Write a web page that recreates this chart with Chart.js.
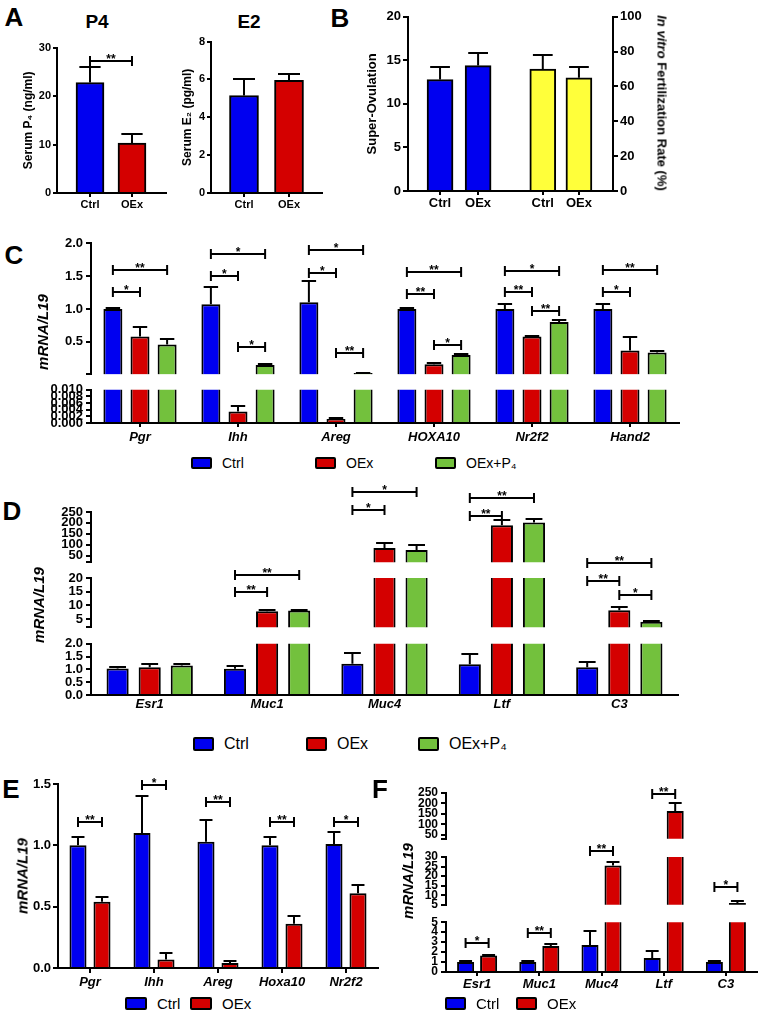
<!DOCTYPE html>
<html>
<head>
<meta charset="utf-8">
<title>Figure</title>
<script src="https://cdn.jsdelivr.net/npm/chart.js@4.4.1/dist/chart.umd.min.js"></script>
<style>
  html, body { margin: 0; background: #fff; }
  #page { position: relative; width: 762px; height: 1013px; overflow: hidden; font-family: 'Liberation Sans', Arial, sans-serif; color: #000; }
  #page canvas { position: absolute; }
  .txt { position: absolute; white-space: nowrap; line-height: 1; }
</style>
</head>
<body>
<div id="page"></div>
<script>
// ---------- data ----------
const groups = ['Ctrl', 'OEx'];
const seriesNames = ['Ctrl', 'OEx', 'OEx+P₄'];

// A
const p4Values = [22.8, 10.3];
const p4Errors = [3.3, 1.8];
const p4Sig = [[[0, 0], [0, 1], 27.3, '**']];
const e2Values = [5.15, 5.95];
const e2Errors = [0.9, 0.35];

// B
const ovulationValues = [12.8, 14.4];
const ovulationErrors = [1.4, 1.4];
const fertilizationValues = [70, 65];
const fertilizationErrors = [7.8, 6.2];

// C  (sig rows: category, from series, to series, level, stars)
const cGenes = ['Pgr', 'Ihh', 'Areg', 'HOXA10', 'Nr2f2', 'Hand2'];
const cCtrl = [1.00, 1.07, 1.10, 1.00, 1.00, 1.00];
const cCtrlErr = [0.02, 0.26, 0.33, 0.02, 0.07, 0.08];
const cOEx = [0.58, 0.0035, 0.0012, 0.16, 0.58, 0.37];
const cOExErr = [0.14, 0.0015, 0.0002, 0.02, 0.01, 0.20];
const cP4 = [0.46, 0.15, 0.03, 0.30, 0.80, 0.34];
const cP4Err = [0.09, 0.02, 0.003, 0.01, 0.03, 0.02];
const cUpperTicks = [0.01, 0.5, 1, 1.5, 2];
const cLowerTicks = [0, 0.002, 0.004, 0.006, 0.008, 0.01];
const cSig = [
  [0, 0, 1, 1.26, '*'], [0, 0, 2, 1.59, '**'],
  [1, 0, 1, 1.50, '*'], [1, 0, 2, 1.83, '*'], [1, 1, 2, 0.42, '*'],
  [2, 0, 1, 1.55, '*'], [2, 0, 2, 1.89, '*'], [2, 1, 2, 0.33, '**'],
  [3, 0, 1, 1.22, '**'], [3, 0, 2, 1.56, '**'], [3, 1, 2, 0.46, '*'],
  [4, 0, 1, 1.25, '**'], [4, 0, 2, 1.57, '*'], [4, 1, 2, 0.97, '**'],
  [5, 0, 1, 1.25, '*'], [5, 0, 2, 1.59, '**']
];

// D
const dGenes = ['Esr1', 'Muc1', 'Muc4', 'Ltf', 'C3'];
const dCtrl = [1.04, 1.03, 1.22, 1.20, 1.08];
const dCtrlErr = [0.06, 0.12, 0.43, 0.42, 0.22];
const dOEx = [1.08, 7.8, 85, 189, 8.2];
const dOExErr = [0.14, 0.6, 21, 26, 1.3];
const dP4 = [1.15, 8.1, 76, 202, 4.0];
const dP4Err = [0.05, 0.3, 22, 18, 0.3];
const dTopTicks = [20, 50, 100, 150, 200, 250];
const dMidTicks = [2, 5, 10, 15, 20];
const dLowTicks = [0, 0.5, 1, 1.5, 2];
const dTopSig = [[2, 0, 1, 259, '*'], [2, 0, 2, 341, '*'], [3, 0, 1, 233, '**'], [3, 0, 2, 315, '**']];
const dMidSig = [[1, 0, 1, 14.8, '**'], [1, 0, 2, 21, '**'], [4, 0, 1, 19, '**'], [4, 0, 2, 25.6, '**'], [4, 1, 2, 13.7, '*']];

// E
const eGenes = ['Pgr', 'Ihh', 'Areg', 'Hoxa10', 'Nr2f2'];
const eCtrl = [1.00, 1.10, 1.03, 1.00, 1.01];
const eCtrlErr = [0.07, 0.30, 0.18, 0.07, 0.10];
const eOEx = [0.54, 0.07, 0.04, 0.36, 0.61];
const eOExErr = [0.04, 0.05, 0.02, 0.06, 0.07];
const eTicks = [0, 0.5, 1, 1.5];
const eSig = [[0, 0, 1, 1.19, '**'], [1, 0, 1, 1.49, '*'], [2, 0, 1, 1.35, '**'], [3, 0, 1, 1.19, '**'], [4, 0, 1, 1.19, '*']];

// F
const fGenes = ['Esr1', 'Muc1', 'Muc4', 'Ltf', 'C3'];
const fCtrl = [1.0, 1.0, 2.7, 1.4, 1.0];
const fCtrlErr = [0.1, 0.1, 1.4, 0.7, 0.15];
const fOEx = [1.65, 2.6, 25.5, 164, 6.0];
const fOExErr = [0.1, 0.2, 2.0, 36, 1.0];
const fTopTicks = [30, 50, 100, 150, 200, 250];
const fMidTicks = [5, 10, 15, 20, 25, 30];
const fLowTicks = [0, 1, 2, 3, 4, 5];
const fTopSig = [[3, 0, 1, 245, '**']];
const fMidSig = [[2, 0, 1, 33, '**'], [4, 0, 1, 14.5, '*']];
const fLowSig = [[0, 0, 1, 2.9, '*'], [1, 0, 1, 3.9, '**']];

// ---------- styling ----------
const BLUE = '#0000f0', RED = '#d40000', GREEN = '#73c13d', YELLOW = '#ffff3a';
const FONT = "'Liberation Sans', Arial, sans-serif";
Chart.defaults.font.family = FONT;
Chart.defaults.color = '#000';
Chart.defaults.animation = false;

const page = document.getElementById('page');

function mkCanvas(left, top, width, height) {
  const c = document.createElement('canvas');
  c.width = width;
  c.height = height;
  c.style.left = left + 'px';
  c.style.top = top + 'px';
  page.appendChild(c);
  return c;
}

function addText(html, cx, cy, css, rotate) {
  const d = document.createElement('div');
  d.className = 'txt';
  d.innerHTML = html;
  d.style.cssText += `left:${cx}px;top:${cy}px;${css};transform:translate(-50%,-50%)${rotate ? ` rotate(${rotate}deg)` : ''}`;
  page.appendChild(d);
}

function htmlLegend(chart, boxX, cy, boxW, boxH, size) {
  chart.data.datasets.forEach((ds, i) => {
    const box = document.createElement('div');
    box.style.cssText = `position:absolute;left:${boxX[i]}px;top:${cy - boxH / 2}px;width:${boxW}px;height:${boxH}px;box-sizing:border-box;border:2px solid #000;border-radius:2px;background:${ds.backgroundColor}`;
    page.appendChild(box);
    const t = document.createElement('div');
    t.className = 'txt';
    t.textContent = ds.label;
    t.style.cssText += `left:${boxX[i] + boxW + 10}px;top:${cy}px;transform:translateY(-50%);font-size:${size}px`;
    page.appendChild(t);
  });
}

// mean + SEM whiskers, clipped to the plot area of each segment
const errorBars = {
  id: 'errorBars',
  afterDatasetsDraw(chart) {
    const {ctx, chartArea: a} = chart;
    ctx.save();
    ctx.beginPath();
    ctx.rect(a.left - 2, a.top - 1, a.right - a.left + 4, a.bottom - a.top + 1);
    ctx.clip();
    ctx.strokeStyle = '#000';
    ctx.lineWidth = 2;
    chart.data.datasets.forEach((ds, i) => {
      if (!ds.errors) return;
      const meta = chart.getDatasetMeta(i);
      const yScale = chart.scales[meta.yAxisID];
      meta.data.forEach((bar, j) => {
        const raw = ds.data[j];
        const v = typeof raw === 'object' ? raw.y : raw;
        const base = yScale.getPixelForValue(v);
        const top = Math.round(yScale.getPixelForValue(v + ds.errors[j]));
        if (top > a.bottom - 1) return;
        const half = bar.width * 0.38;
        ctx.beginPath();
        ctx.moveTo(bar.x, base);
        ctx.lineTo(bar.x, top);
        if (top >= a.top - 1) {
          ctx.moveTo(bar.x - half, top);
          ctx.lineTo(bar.x + half, top);
        }
        ctx.stroke();
      });
    });
    ctx.restore();
  }
};

// significance brackets: [[dataset, index], [dataset, index], level, text]
function sigPlugin(items, yId) {
  return {
    id: 'sigBrackets',
    afterDatasetsDraw(chart) {
      const {ctx} = chart;
      const scale = chart.scales[yId || 'y'];
      ctx.save();
      ctx.strokeStyle = '#000';
      ctx.fillStyle = '#000';
      ctx.lineWidth = 2;
      ctx.font = `bold 12px ${FONT}`;
      ctx.textAlign = 'center';
      ctx.textBaseline = 'alphabetic';
      items.forEach(([a, b, level, text]) => {
        const xa = chart.getDatasetMeta(a[0]).data[a[1]].x;
        const xb = chart.getDatasetMeta(b[0]).data[b[1]].x;
        const y = Math.round(scale.getPixelForValue(level));
        ctx.beginPath();
        ctx.moveTo(xa, y); ctx.lineTo(xb, y);
        ctx.moveTo(xa, y - 5); ctx.lineTo(xa, y + 5);
        ctx.moveTo(xb, y - 5); ctx.lineTo(xb, y + 5);
        ctx.stroke();
        ctx.fillText(text, (xa + xb) / 2, y + 2);
      });
      ctx.restore();
    }
  };
}

const axisGrid = (len) => ({drawOnChartArea: false, color: '#000', lineWidth: 2, tickLength: len, drawTicks: len > 0});
const axisBorder = {color: '#000', width: 2};

// ---------- panel A ----------
function serumChart(o) {
  const padTop = 8, xH = 18;
  const canvas = mkCanvas(o.axisX - o.yW, o.y0 - padTop, o.yW + o.x1 - o.axisX + 4, padTop + o.y1 - o.y0 + xH);
  return new Chart(canvas, {
    type: 'bar',
    data: {
      datasets: [{
        data: o.values.map((y, i) => ({x: i + 1, y})),
        errors: o.errors,
        backgroundColor: [BLUE, RED],
        borderColor: '#000', borderWidth: 2, borderSkipped: 'start',
        barThickness: o.barW
      }]
    },
    options: {
      responsive: false, devicePixelRatio: 1,
      layout: {padding: {top: padTop, right: 4, bottom: 0, left: 0}},
      plugins: {legend: {display: false}, tooltip: {enabled: false}},
      scales: {
        x: {
          type: 'linear', min: o.xMin, max: o.xMax, offset: false,
          afterBuildTicks: sc => { sc.ticks = groups.map((g, i) => ({value: i + 1})); },
          ticks: {font: {size: 11, weight: 'bold'}, padding: 1, autoSkip: false, maxRotation: 0, callback: (v, i) => groups[i]},
          grid: Object.assign(axisGrid(4), {offset: false}), border: axisBorder,
          afterFit: sc => { sc.height = xH; }
        },
        y: {
          min: 0, max: o.max,
          ticks: {stepSize: o.step, font: {size: 11, weight: 'bold'}, padding: 2},
          grid: axisGrid(4), border: axisBorder,
          title: {display: true, text: o.title, font: {size: 12, weight: 'bold'}, padding: 0},
          afterFit: sc => { sc.width = o.yW; }
        }
      }
    },
    plugins: [errorBars, sigPlugin(o.sig || [])]
  });
}

serumChart({axisX: 57, x1: 166, y0: 47, y1: 193, yW: 36, xMin: 0.214, xMax: 2.81, barW: 28,
  values: p4Values, errors: p4Errors, max: 30, step: 10, title: 'Serum P₄ (ng/ml)', sig: p4Sig});
serumChart({axisX: 211, x1: 322, y0: 41, y1: 193, yW: 31, xMin: 0.267, xMax: 2.733, barW: 29,
  values: e2Values, errors: e2Errors, max: 8, step: 2, title: 'Serum E₂ (pg/ml)'});

// ---------- panel B ----------
const bPos = [1, 2, 3.7, 4.65];
const bLabels = groups.concat(groups);
new Chart(mkCanvas(365, 7, 290, 8 + 176 + 20), {
  type: 'bar',
  data: {
    datasets: [
      {label: 'Super-Ovulation', data: ovulationValues.map((y, i) => ({x: bPos[i], y})), errors: ovulationErrors,
        backgroundColor: BLUE, yAxisID: 'y'},
      {label: 'In vitro Fertilization Rate (%)', data: fertilizationValues.map((y, i) => ({x: bPos[i + 2], y})), errors: fertilizationErrors,
        backgroundColor: YELLOW, yAxisID: 'y2'}
    ].map(d => Object.assign(d, {borderColor: '#000', borderWidth: 2, borderSkipped: 'start', barThickness: 26, grouped: false}))
  },
  options: {
    responsive: false, devicePixelRatio: 1,
    layout: {padding: {top: 8, right: 0, bottom: 0, left: 0}},
    plugins: {legend: {display: false}, tooltip: {enabled: false}},
    scales: {
      x: {
        type: 'linear', min: 0.158, max: 5.545, offset: false,
        afterBuildTicks: sc => { sc.ticks = bPos.map(value => ({value})); },
        ticks: {font: {size: 13, weight: 'bold'}, padding: 1, autoSkip: false, maxRotation: 0, callback: (v, i) => bLabels[i]},
        grid: Object.assign(axisGrid(4), {offset: false}), border: axisBorder,
        afterFit: sc => { sc.height = 20; }
      },
      y: {
        position: 'left', min: 0, max: 20,
        ticks: {stepSize: 5, font: {size: 13, weight: 'bold'}, padding: 2},
        grid: axisGrid(5), border: axisBorder,
        title: {display: true, text: 'Super-Ovulation', font: {size: 13, weight: 'bold'}, padding: 0},
        afterFit: sc => { sc.width = 43; }
      },
      y2: {
        position: 'right', min: 0, max: 100,
        ticks: {stepSize: 20, font: {size: 13, weight: 'bold'}, padding: 2},
        grid: axisGrid(5), border: axisBorder,
        afterFit: sc => { sc.width = 42; }
      }
    }
  },
  plugins: [errorBars]
});

// ---------- broken-axis panels (C, D, E, F) ----------
function segmentedPanel(p) {
  return p.segments.map((s, k) => {
    const last = k === p.segments.length - 1;
    const padTop = s.padTop || 10;
    const padBottom = last ? 0 : 8;
    const xH = last ? p.xH : 0;
    const canvas = mkCanvas(p.x0 - p.yW, s.y0 - padTop, p.yW + p.x1 - p.x0 + 6, padTop + s.y1 - s.y0 + padBottom + xH);
    const sig = (s.sig || []).map(([c, a, b, v, t]) => [[a, c], [b, c], v, t]);
    return new Chart(canvas, {
      type: 'bar',
      data: {
        labels: p.labels,
        datasets: p.series.map(sr => ({
          label: sr.name, data: sr.values, errors: sr.errors,
          backgroundColor: sr.color, borderColor: '#000', borderWidth: 2, borderSkipped: 'start',
          categoryPercentage: p.catPct, barPercentage: p.barPct
        }))
      },
      options: {
        responsive: false, devicePixelRatio: 1,
        layout: {padding: {top: padTop, right: 6, bottom: padBottom, left: 0}},
        plugins: {legend: {display: false}, tooltip: {enabled: false}},
        scales: {
          x: {
            display: last,
            grid: Object.assign(axisGrid(p.xTick), {offset: false}),
            border: axisBorder,
            ticks: {font: {size: 13, weight: 'bold', style: 'italic'}, padding: p.xPad, maxRotation: 0, autoSkip: false},
            afterFit: sc => { sc.height = xH; }
          },
          y: {
            min: s.ticks[0], max: s.ticks[s.ticks.length - 1],
            afterBuildTicks: sc => { sc.ticks = s.ticks.map(value => ({value})); },
            ticks: {font: {size: p.yFont, weight: 'bold'}, padding: p.yPad || 3, autoSkip: false, callback: s.fmt},
            grid: axisGrid(5), border: axisBorder,
            afterFit: sc => { sc.width = p.yW; }
          }
        }
      },
      plugins: [errorBars, sigPlugin(sig)]
    });
  });
}

const fixed = d => v => v.toFixed(d);
const blankFirst = (first, f) => v => (v === first ? '' : f(v));
const threeSeries = (a, ae, b, be, c, ce) => [
  {name: seriesNames[0], color: BLUE, values: a, errors: ae},
  {name: seriesNames[1], color: RED, values: b, errors: be},
  {name: seriesNames[2], color: GREEN, values: c, errors: ce}
];
const twoSeries = (a, ae, b, be) => [
  {name: seriesNames[0], color: BLUE, values: a, errors: ae},
  {name: seriesNames[1], color: RED, values: b, errors: be}
];

// C
const cCharts = segmentedPanel({
  labels: cGenes, x0: 91, x1: 679, yW: 50, yFont: 13, catPct: 0.83, barPct: 0.70, xH: 24, xTick: 4, xPad: 3,
  series: threeSeries(cCtrl, cCtrlErr, cOEx, cOExErr, cP4, cP4Err),
  segments: [
    {y0: 243, y1: 377, ticks: cUpperTicks, fmt: blankFirst(0.01, fixed(1)), sig: cSig, padTop: 12},
    {y0: 389, y1: 423, ticks: cLowerTicks, fmt: fixed(3)}
  ]
});
htmlLegend(cCharts[1], [191, 315, 435], 463, 21, 12, 14);

// D
const dCharts = segmentedPanel({
  labels: dGenes, x0: 91, x1: 678, yW: 46, yFont: 13, catPct: 0.82, barPct: 0.69, xH: 20, xTick: 0, xPad: 2,
  series: threeSeries(dCtrl, dCtrlErr, dOEx, dOExErr, dP4, dP4Err),
  segments: [
    {y0: 512, y1: 565, ticks: dTopTicks, fmt: blankFirst(20, String), sig: dTopSig, padTop: 36},
    {y0: 578, y1: 630, ticks: dMidTicks, fmt: blankFirst(2, String), sig: dMidSig, padTop: 30},
    {y0: 643, y1: 695, ticks: dLowTicks, fmt: fixed(1)}
  ]
});
htmlLegend(dCharts[2], [193, 306, 418], 744, 21, 14, 16);

// E
const eCharts = segmentedPanel({
  labels: eGenes, x0: 58, x1: 378, yW: 34, yFont: 13, yPad: 2, catPct: 0.75, barPct: 0.71, xH: 24, xTick: 5, xPad: 2,
  series: twoSeries(eCtrl, eCtrlErr, eOEx, eOExErr),
  segments: [
    {y0: 784, y1: 968, ticks: eTicks, fmt: fixed(1), sig: eSig, padTop: 16}
  ]
});
htmlLegend(eCharts[0], [125, 190], 1003, 22, 13, 15);

// F
const fCharts = segmentedPanel({
  labels: fGenes, x0: 446, x1: 757, yW: 40, yFont: 12, catPct: 0.74, barPct: 0.74, xH: 24, xTick: 4, xPad: 1,
  series: twoSeries(fCtrl, fCtrlErr, fOEx, fOExErr),
  segments: [
    {y0: 793, y1: 841, ticks: fTopTicks, fmt: blankFirst(30, String), sig: fTopSig, padTop: 16},
    {y0: 857, y1: 907, ticks: fMidTicks, fmt: String, sig: fMidSig, padTop: 22},
    {y0: 922, y1: 972, ticks: fLowTicks, fmt: String, sig: fLowSig}
  ]
});
htmlLegend(fCharts[2], [445, 516], 1003, 21, 13, 15);

// ---------- free text ----------
const letter = 'font-weight:bold;font-size:26px';
addText('A', 14, 17, letter);
addText('B', 340, 18, letter);
addText('C', 14, 255, letter);
addText('D', 12, 511, letter);
addText('E', 11, 789, letter);
addText('F', 380, 789, letter);
addText('P4', 97, 21, 'font-weight:bold;font-size:19px');
addText('E2', 249, 21, 'font-weight:bold;font-size:19px');
addText('<i>In vitro</i> Fertilization Rate (%)', 662, 103, 'font-weight:bold;font-size:13px', 90);
const yTitle = 'font-weight:bold;font-style:italic;font-size:15px';
addText('mRNA/L19', 42, 332, yTitle, -90);
addText('mRNA/L19', 38, 605, yTitle, -90);
addText('mRNA/L19', 22, 876, yTitle, -90);
addText('mRNA/L19', 407, 881, yTitle, -90);
</script>
</body>
</html>
